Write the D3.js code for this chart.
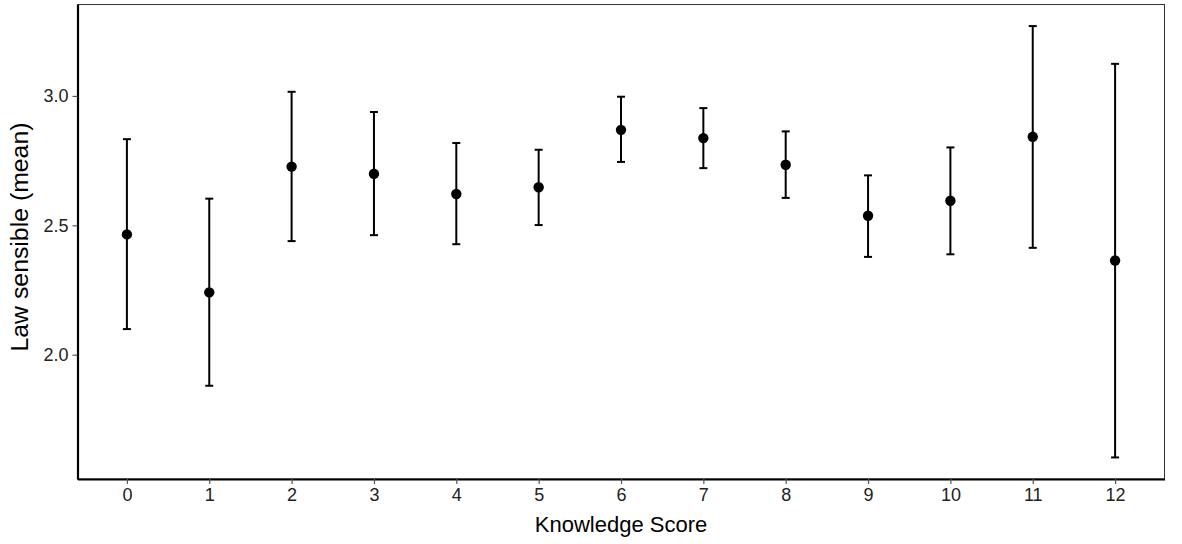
<!DOCTYPE html>
<html>
<head>
<meta charset="utf-8">
<script src="https://cdn.jsdelivr.net/npm/d3@7"></script>
<style>
  html, body { margin: 0; padding: 0; background: #fff; }
  svg { display: block; }
  text { font-family: "Liberation Sans", Arial, sans-serif; }
</style>
</head>
<body>
<svg id="chart" width="1182" height="544"></svg>
<script>
// Data
const scores = [0, 1, 2, 3, 4, 5, 6, 7, 8, 9, 10, 11, 12];
const means  = [2.465, 2.241, 2.727, 2.699, 2.621, 2.647, 2.869, 2.837, 2.734, 2.537, 2.595, 2.842, 2.364];
const lower  = [2.099, 1.880, 2.439, 2.462, 2.427, 2.501, 2.745, 2.721, 2.606, 2.378, 2.388, 2.413, 1.603];
const upper  = [2.833, 2.603, 3.016, 2.938, 2.818, 2.792, 2.997, 2.953, 2.863, 2.693, 2.801, 3.270, 3.124];
const yTicks = [2.0, 2.5, 3.0];
const xLabel = "Knowledge Score";
const yLabel = "Law sensible (mean)";

const svg = d3.select("#chart");
const W = 1182, H = 544;
const margin = { left: 77.5, right: W - 1164.5, top: 4.5, bottom: H - 479 };

const xMin = d3.min(scores), xMax = d3.max(scores);
const xPad = (xMax - xMin) * 0.05;
const yMin = d3.min(lower), yMax = d3.max(upper);
const yPad = (yMax - yMin) * 0.05;

const x = d3.scaleLinear().domain([xMin - xPad, xMax + xPad]).range([margin.left, W - margin.right]);
const y = d3.scaleLinear().domain([yMin - yPad, yMax + yPad]).range([H - margin.bottom, margin.top]);

// panel border (top/right thin)
svg.append("rect")
  .attr("x", x.range()[0]).attr("y", y.range()[1])
  .attr("width", x.range()[1] - x.range()[0])
  .attr("height", y.range()[0] - y.range()[1])
  .attr("fill", "none").attr("stroke", "#333").attr("stroke-width", 1);

// axes
const xAxis = d3.axisBottom(x).tickValues(scores).tickSize(5).tickSizeOuter(0).tickPadding(4).tickFormat(d3.format("d"));
const yAxis = d3.axisLeft(y).tickValues(yTicks).tickSize(5).tickSizeOuter(0).tickPadding(4).tickFormat(d3.format(".1f"));

const gx = svg.append("g").attr("transform", `translate(0,${y.range()[0]})`).call(xAxis);
const gy = svg.append("g").attr("transform", `translate(${x.range()[0]},0)`).call(yAxis);
[gx, gy].forEach(g => {
  g.attr("font-size", null).attr("font-family", null);
  g.select(".domain").attr("stroke", "#000").attr("stroke-width", 2.2);
  g.selectAll(".tick line").attr("stroke", "#555").attr("stroke-width", 1.2);
  g.selectAll(".tick text").attr("fill", "#222").style("font-size", "18px");
});

// error bars
const capW = 4;
const eb = svg.append("g").selectAll("g").data(scores).join("g");
eb.append("line")
  .attr("x1", (d) => x(d)).attr("x2", (d) => x(d))
  .attr("y1", (d, i) => y(lower[i])).attr("y2", (d, i) => y(upper[i]))
  .attr("stroke", "#000").attr("stroke-width", 2);
eb.append("line")
  .attr("x1", (d) => x(d) - capW).attr("x2", (d) => x(d) + capW)
  .attr("y1", (d, i) => y(lower[i])).attr("y2", (d, i) => y(lower[i]))
  .attr("stroke", "#000").attr("stroke-width", 2);
eb.append("line")
  .attr("x1", (d) => x(d) - capW).attr("x2", (d) => x(d) + capW)
  .attr("y1", (d, i) => y(upper[i])).attr("y2", (d, i) => y(upper[i]))
  .attr("stroke", "#000").attr("stroke-width", 2);
eb.append("circle")
  .attr("cx", (d) => x(d)).attr("cy", (d, i) => y(means[i]))
  .attr("r", 5.2).attr("fill", "#000");

// titles
svg.append("text")
  .attr("x", (x.range()[0] + x.range()[1]) / 2).attr("y", 532)
  .attr("text-anchor", "middle").style("font-size", "22px").attr("fill", "#000")
  .text(xLabel);
svg.append("text")
  .attr("transform", `translate(28,237) rotate(-90)`)
  .attr("text-anchor", "middle").style("font-size", "23px").attr("fill", "#000")
  .attr("textLength", 229).attr("lengthAdjust", "spacingAndGlyphs")
  .text(yLabel);
</script>
</body>
</html>
